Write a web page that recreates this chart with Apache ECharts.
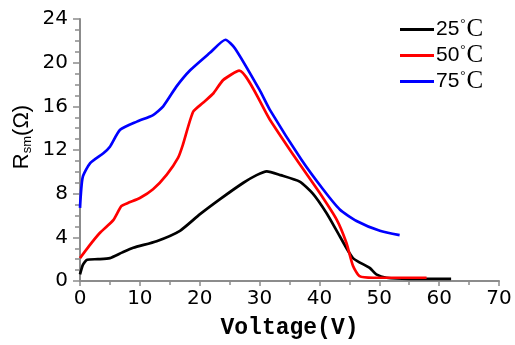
<!DOCTYPE html>
<html>
<head>
<meta charset="utf-8">
<script src="https://cdn.jsdelivr.net/npm/echarts@6/dist/echarts.min.js"></script>
<style>
  html, body { margin: 0; padding: 0; background: #fff; }
  #chart { width: 515px; height: 345px; }
</style>
</head>
<body>
<div id="chart"></div>
<script>
// values: voltage (V) and R_sm (ohm)
const v25 = [0, 0.5, 1.2, 3, 5, 7, 8.9, 12.8, 16.7, 20, 23.4, 27.3, 29.5, 31.2, 33.5, 36.7, 38.9, 41.2, 43.4, 45.6, 48.4, 49.5, 51.2, 55, 62];
const r25 = [0.6, 1.5, 1.95, 2.0, 2.1, 2.6, 3.05, 3.65, 4.6, 6.1, 7.5, 9.0, 9.7, 10.05, 9.7, 9.1, 8.0, 6.2, 4.1, 2.1, 1.2, 0.6, 0.3, 0.2, 0.2];

const v50 = [0, 1.5, 3.3, 5.6, 6.9, 8, 10, 12.2, 14.5, 16.4, 17.2, 18.9, 20.5, 22.3, 23.9, 26.6, 31.7, 36.2, 40, 42.9, 44.5, 45.6, 46.7, 49, 57.9];
const r50 = [2.1, 3.2, 4.4, 5.6, 6.85, 7.15, 7.6, 8.4, 9.75, 11.3, 12.5, 15.5, 16.3, 17.2, 18.4, 19.27, 14.8, 11.1, 8.1, 5.6, 3.5, 1.4, 0.45, 0.3, 0.3];

const v75 = [0, 0.45, 1.7, 3.9, 5, 6.7, 9.5, 12.2, 13.9, 16.1, 18.4, 21.7, 24.3, 25.9, 30, 31.7, 37, 40.6, 43.4, 46.2, 50.1, 53.4];
const r75 = [6.7, 9.5, 10.8, 11.7, 12.3, 13.85, 14.6, 15.2, 16.0, 17.8, 19.3, 20.9, 22.1, 21.3, 17.5, 15.7, 11.1, 8.4, 6.55, 5.5, 4.6, 4.2];

const names = ['25°C', '50°C', '75°C'];
const colors = ['#000000', '#ff0000', '#0000ff'];

const yTicks = [0, 4, 8, 12, 16, 20, 24];
const xTicks = [0, 10, 20, 30, 40, 50, 60, 70];

function pairs(xs, ys) {
  return xs.map((x, i) => [x, ys[i]]);
}

const chart = echarts.init(document.getElementById('chart'));

const axisGray = '#8c8c8c';

const option = {
  animation: false,
  grid: { left: 80, right: 16, top: 19, bottom: 63 },
  legend: {
    orient: 'vertical',
    left: 400,
    top: 17,
    padding: 0,
    icon: 'rect',
    itemWidth: 34,
    itemHeight: 3,
    itemGap: 1,
    data: names,
    formatter: (name) => '{n|' + name.slice(0, 2) + '}{d|°}{c|C}',
    textStyle: {
      color: '#000',
      padding: [0, 0, 0, -3],
      rich: {
        n: { fontFamily: 'Liberation Sans', fontSize: 21, lineHeight: 25 },
        d: { fontFamily: 'Liberation Serif', fontSize: 13, verticalAlign: 'top', lineHeight: 25, padding: [0, 1, 0, 1] },
        c: { fontFamily: 'Liberation Serif', fontSize: 25, lineHeight: 25 }
      }
    }
  },
  xAxis: {
    type: 'value',
    min: 0,
    max: 70,
    interval: 10,
    name: 'Voltage(V)',
    nameLocation: 'middle',
    nameGap: 36,
    nameTextStyle: { fontFamily: 'Liberation Mono', fontWeight: 'bold', fontSize: 23, color: '#000' },
    axisLine: { lineStyle: { color: axisGray, width: 2 } },
    axisTick: { show: true, length: 5, lineStyle: { color: axisGray, width: 1.5 } },
    minorTick: { show: true, splitNumber: 2, length: 4, lineStyle: { color: axisGray, width: 1.5 } },
    splitLine: { show: false },
    axisLabel: {
      margin: 8,
      fontFamily: 'DejaVu Sans',
      fontSize: 20,
      color: '#000',
      formatter: (v) => xTicks.includes(v) ? String(v) : ''
    }
  },
  yAxis: {
    type: 'value',
    min: 0,
    max: 24,
    interval: 4,
    axisLine: { show: true, lineStyle: { color: axisGray, width: 2 } },
    axisTick: { show: true, length: 7, lineStyle: { color: axisGray, width: 1.5 } },
    minorTick: { show: true, splitNumber: 4, length: 5, lineStyle: { color: axisGray, width: 1.5 } },
    splitLine: { show: false },
    axisLabel: {
      margin: 12,
      fontFamily: 'DejaVu Sans',
      fontSize: 20,
      color: '#000',
      formatter: (v) => yTicks.includes(v) ? String(v) : ''
    }
  },
  graphic: [
    {
      type: 'text',
      x: 22,
      y: 137,
      rotation: Math.PI / 2,
      style: {
        text: '{r|R}{s|sm}{p|(Ω)}',
        align: 'center',
        verticalAlign: 'middle',
        fill: '#000',
        rich: {
          r: { fontFamily: 'Liberation Sans', fontSize: 22, lineHeight: 24 },
          s: { fontFamily: 'Liberation Sans', fontSize: 13, verticalAlign: 'bottom', lineHeight: 24 },
          p: { fontFamily: 'Liberation Sans', fontSize: 22, lineHeight: 24 }
        }
      }
    }
  ],
  series: [
    { name: names[0], type: 'line', data: pairs(v25, r25) },
    { name: names[1], type: 'line', data: pairs(v50, r50) },
    { name: names[2], type: 'line', data: pairs(v75, r75) }
  ].map((s, i) => Object.assign(s, {
    showSymbol: false,
    symbol: 'none',
    smooth: 0.2,
    color: colors[i],
    lineStyle: { color: colors[i], width: 2.7 }
  }))
};

chart.setOption(option);
</script>
</body>
</html>
